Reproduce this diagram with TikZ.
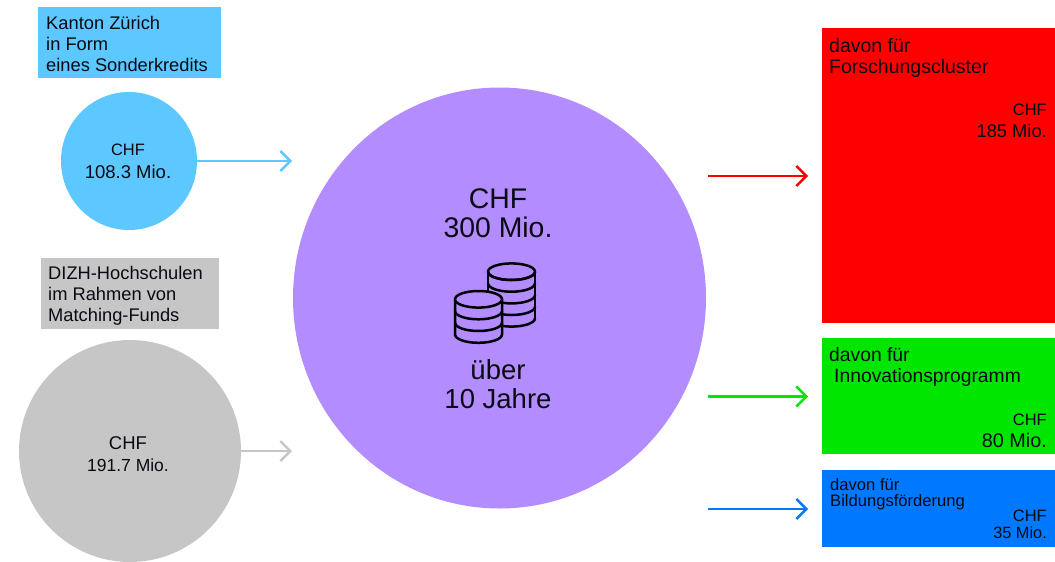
\documentclass[tikz,border=0pt]{standalone}
\usepackage{fontspec}
\setmainfont{Liberation Sans}
\usetikzlibrary{arrows.meta,shapes.geometric}
\definecolor{sky}{HTML}{5CC8FF}
\definecolor{grayc}{HTML}{C6C6C6}
\definecolor{violet}{HTML}{B38CFF}
\definecolor{redc}{HTML}{FF0000}
\definecolor{greenc}{HTML}{00E600}
\definecolor{bluec}{HTML}{0078FF}
\definecolor{ink}{HTML}{0A0A14}
\newcommand{\fs}[2]{\fontsize{#1}{#2}\selectfont}
\tikzset{
  x=1pt,y=-1pt,
  disc/.style 2 args={ellipse,inner sep=0pt,minimum width=#1,minimum height=#2},
  label box/.style={inner sep=0pt,text=ink,anchor=north west,align=left},
  amount/.style={inner sep=0pt,text=ink,anchor=north east,align=right},
  centered/.style={inner sep=0pt,text=ink,align=center},
  flow/.style={line width=2.4pt,-{Straight Barb[length=10pt,width=20pt,line width=2.4pt]}},
  coin/.style={line width=2.5pt,draw=black,line cap=round,line join=round},
}
\begin{document}
\begin{tikzpicture}
\useasboundingbox (0,0) rectangle (1055,562);
% boxes
\fill[sky] (38,7) rectangle (221,78);
\fill[grayc] (41,258) rectangle (219,329);
\fill[redc] (822,28) rectangle (1055,323);
\fill[greenc] (822,338) rectangle (1055,454);
\fill[bluec] (822,470) rectangle (1055,547);
% discs
\node[disc={136pt}{138pt},fill=sky] (kanton) at (129,161) {};
\node[disc={222pt}{222pt},fill=grayc] (hochschulen) at (130,451) {};
\node[disc={413pt}{421pt},fill=violet] (total) at (499.5,298) {};
% arrow ends
\coordinate (a1) at (292,161);
\coordinate (a2) at (292,451);
\coordinate (s3) at (708,176); \coordinate (a3) at (808,176);
\coordinate (s4) at (708,396.5); \coordinate (a4) at (808,396.5);
\coordinate (s5) at (708,509); \coordinate (a5) at (808,509);
\draw[flow,draw=sky] (kanton.east) -- (a1);
\draw[flow,draw=grayc] (hochschulen.east) -- (a2);
\draw[flow,draw=redc] (s3) -- (a3);
\draw[flow,draw=greenc] (s4) -- (a4);
\draw[flow,draw=bluec] (s5) -- (a5);
% box texts
\node[label box,font=\fs{18.3}{21}] (t1) at (46,16) {Kanton Zürich\\in Form\\eines Sonderkredits};
\node[label box,font=\fs{18.3}{21}] (t2) at (48,266) {DIZH-Hochschulen\\im Rahmen von\\Matching-Funds};
\node[label box,font=\fs{19.5}{21.5}] (t3) at (829,38) {davon für\\Forschungscluster};
\node[amount,font=\fs{16.5}{21}] (t3a) at (1047,104) {CHF};
\node[amount,font=\fs{18.3}{21}] (t3b) at (1047,124) {185 Mio.};
\node[label box,font=\fs{19.3}{21.5}] (t4) at (829,347) {davon für\\\hspace*{5pt}Innovationsprogramm};
\node[amount,font=\fs{16.5}{21}] (t4a) at (1047,414) {CHF};
\node[amount,font=\fs{19.8}{21}] (t4b) at (1047,433) {80 Mio.};
\node[label box,font=\fs{16.6}{16}] (t5) at (830,478) {davon für\\Bildungsförderung};
\node[amount,font=\fs{16.5}{21}] (t5a) at (1047,510) {CHF};
\node[amount,font=\fs{16.3}{21}] (t5b) at (1047,526) {35 Mio.};
% disc texts
\node[centered,font=\fs{16.5}{21}] (c1a) at (128,150) {CHF};
\node[centered,font=\fs{18.5}{21}] (c1b) at (128,172) {108.3 Mio.};
\node[centered,font=\fs{18.5}{21}] (c2a) at (128,443) {CHF};
\node[centered,font=\fs{17.5}{21}] (c2b) at (128,465) {191.7 Mio.};
\node[centered,font=\fs{28.4}{29}] (c3) at (498,213.5) {CHF\\300 Mio.};
\node[centered,font=\fs{27.5}{29}] (c4) at (498,384) {über\\10 Jahre};
% coins
\begin{scope}[coin]
  \draw (488,271.7) -- (488,318) (535,271.7) -- (535,318);
  \draw (511.5,271.7) ellipse [x radius=23.5,y radius=8.3];
  \foreach \dy in {0,11.7,23.4,35,46.6}
    \draw (488,271.7+\dy) arc [start angle=180,end angle=360,x radius=23.5,y radius=-8.3];
  \filldraw[fill=violet] (455,299.3) -- (455,334.5) arc [start angle=180,end angle=360,x radius=23.5,y radius=-8.3] -- (502,299.3) -- cycle;
  \filldraw[fill=violet] (478.5,299.3) ellipse [x radius=23.5,y radius=8.3];
  \foreach \dy in {11.7,23.4}
    \draw (455,299.3+\dy) arc [start angle=180,end angle=360,x radius=23.5,y radius=-8.3];
\end{scope}
\end{tikzpicture}
\end{document}
